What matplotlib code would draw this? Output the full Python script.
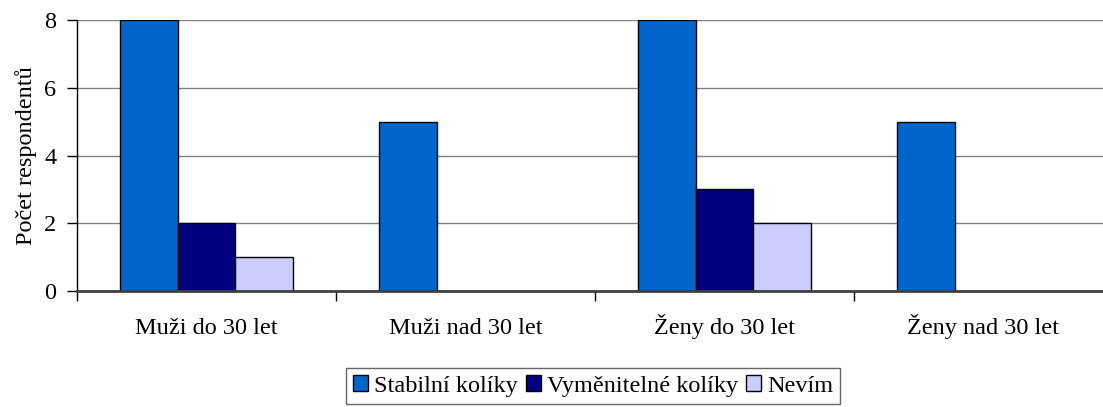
import matplotlib
matplotlib.use("Agg")
import matplotlib.pyplot as plt
import numpy as np

categories = ["Muži do 30 let", "Muži nad 30 let", "Ženy do 30 let", "Ženy nad 30 let"]
series_names = ["Stabilní kolíky", "Vyměnitelné kolíky", "Nevím"]
stabilni = [8, 5, 8, 5]
vymenitelne = [2, 0, 3, 0]
nevim = [1, 0, 2, 0]
colors = ["#0066CC", "#000080", "#CCCCFF"]
yticks = [0, 2, 4, 6, 8]

plt.rcParams['font.family'] = ['Liberation Serif', 'DejaVu Serif']
FS = 17.5

W, H = 1103, 407
fig = plt.figure(figsize=(W / 100, H / 100), dpi=100)
ax = fig.add_axes([77 / W, (H - 291) / H, 1036 / W, 271 / H])

x = np.arange(len(categories))
bw = 0.2235
for i, (vals, name, c) in enumerate(zip([stabilni, vymenitelne, nevim], series_names, colors)):
    heights = np.array(vals, dtype=float)
    mask = heights > 0
    ax.bar(x[mask] + (i - 1) * bw, heights[mask], width=bw, color=c,
           edgecolor="black", linewidth=1.0, label=name, zorder=3)

ax.set_xlim(-0.5, len(categories) - 0.5)
ax.set_ylim(0, 8)
ax.set_yticks(yticks)
ax.yaxis.grid(True, color="#808080", linewidth=1.0, zorder=0)
ax.set_axisbelow(True)

ax.set_xticks(x)
ax.set_xticklabels(categories, fontsize=FS)
ax.tick_params(axis="x", length=0, pad=31)
for lbl in ax.get_xticklabels():
    lbl.set_verticalalignment("baseline")
ax.set_xticks(np.arange(len(categories) + 1) - 0.5, minor=True)
ax.tick_params(axis="x", which="minor", length=7, width=1, color="black", direction="out")
ax.tick_params(axis="y", labelsize=FS, length=7, width=1, direction="out", pad=8)

for s in ["top", "right"]:
    ax.spines[s].set_visible(False)
ax.spines["left"].set_color("black")
ax.spines["left"].set_linewidth(1.0)
ax.spines["bottom"].set_color("#404040")
ax.spines["bottom"].set_linewidth(2.0)
ax.spines["bottom"].set_zorder(4)

ax.set_ylabel("Počet respondentů", fontsize=FS, labelpad=5)

leg = fig.legend(loc="upper center", bbox_to_anchor=(593 / W, 1 - 368 / H), ncol=3,
                 fontsize=FS, frameon=True, fancybox=False, edgecolor="#404040",
                 handlelength=0.6, handleheight=0.6, handletextpad=0.25,
                 columnspacing=0.35, borderpad=0.3, borderaxespad=0)
leg.get_frame().set_linewidth(1.0)

fig.savefig("out.png", dpi=100)
